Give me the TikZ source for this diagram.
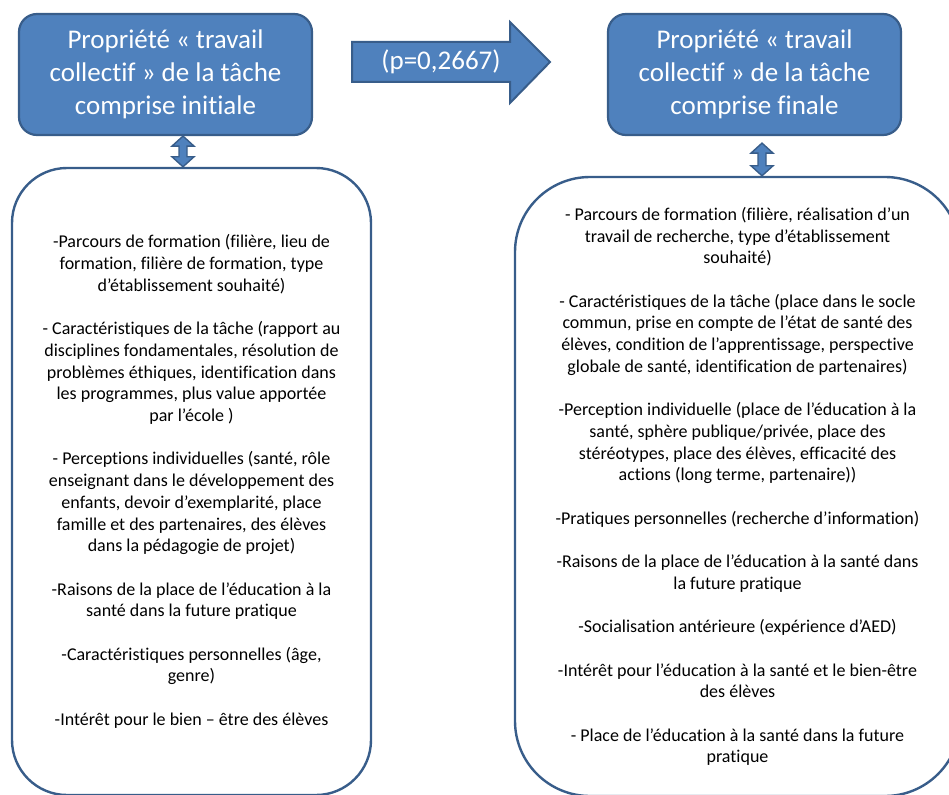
\documentclass[tikz,border=0pt]{standalone}
\usepackage{fontspec}
\setmainfont{Carlito}[Ligatures={NoCommon,NoContextual}]
\usetikzlibrary{calc}
\definecolor{boxblue}{HTML}{4F81BD}
\definecolor{edgeblue}{HTML}{385D8A}
\newcommand\udarr[2]{%
  \draw[dblsty] let \p1=(#1), \p2=(#2) in
   (\p1) -- (\x1+11pt,\y1-10pt) -- (\x1+4pt,\y1-10pt) -- (\x1+4pt,\y2+10pt)
   -- (\x1+11pt,\y2+10pt) -- (\p2) -- (\x1-11pt,\y2+10pt) -- (\x1-4pt,\y2+10pt)
   -- (\x1-4pt,\y1-10pt) -- (\x1-11pt,\y1-10pt) -- cycle;}
\begin{document}
\begin{tikzpicture}[x=1pt,y=-1pt,
  titlebox/.style={draw=edgeblue, line width=2.2pt, fill=boxblue, rounded corners=18pt,
    text=white, font=\fontsize{27}{33}\selectfont, align=center,
    minimum width=293pt, minimum height=121pt, inner sep=0pt},
  bodybox/.style={draw=edgeblue, line width=2.4pt, fill=white, align=center,
    font=\fontsize{18}{21.7}\selectfont, inner sep=0pt},
  dblsty/.style={draw=edgeblue, line width=1.4pt, fill=boxblue, line join=miter},
  bigarrow/.style={draw=edgeblue, line width=2pt, fill=boxblue, line join=miter}]
\useasboundingbox (0,0) rectangle (949,794);

\node[titlebox] (t1) at (165.5,74.5) {Propriété « travail\\collectif » de la tâche\\comprise initiale};
\node[titlebox] (t2) at (754.5,74.5) {Propriété « travail\\collectif » de la tâche\\comprise finale};

\node[bodybox, rounded corners=55pt, minimum width=359pt, minimum height=627pt] (b1) at (191.5,481.5)
{-Parcours de formation (filière, lieu de\\
formation, filière de formation, type\\
d’établissement souhaité)\\[21.7pt]
- Caractéristiques de la tâche (rapport au\\
disciplines fondamentales, résolution de\\
problèmes éthiques, identification dans\\
les programmes, plus value apportée\\
par l’école )\\[21.7pt]
- Perceptions individuelles (santé, rôle\\
enseignant dans le développement des\\
enfants, devoir d’exemplarité, place\\
famille et des partenaires, des élèves\\
dans la pédagogie de projet)\\[21.7pt]
-Raisons de la place de l’éducation à la\\
santé dans la future pratique\\[21.7pt]
-Caractéristiques personnelles (âge,\\
genre)\\[21.7pt]
-Intérêt pour le bien – être des élèves};

\node[bodybox, rounded corners=75pt, minimum width=445pt, minimum height=619pt] (b2) at (737.5,486.5)
{- Parcours de formation (filière, réalisation d’un\\
travail de recherche, type d’établissement\\
souhaité)\\[21.7pt]
- Caractéristiques de la tâche (place dans le socle\\
commun, prise en compte de l’état de santé des\\
élèves, condition de l’apprentissage, perspective\\
globale de santé, identification de partenaires)\\[21.7pt]
-Perception individuelle (place de l’éducation à la\\
santé, sphère publique/privée, place des\\
stéréotypes, place des élèves, efficacité des\\
actions (long terme, partenaire))\\[21.7pt]
-Pratiques personnelles (recherche d’information)\\[21.7pt]
-Raisons de la place de l’éducation à la santé dans\\
la future pratique\\[21.7pt]
-Socialisation antérieure (expérience d’AED)\\[21.7pt]
-Intérêt pour l’éducation à la santé et le bien-être\\
des élèves\\[21.7pt]
- Place de l’éducation à la santé dans la future\\
pratique};

% block arrow
\draw[bigarrow] (352,42) -- (510,42) -- (510,22) -- (550,62) -- (510,103) -- (510,82) -- (352,82) -- cycle;
\node[text=white, font=\fontsize{27}{33}\selectfont, inner sep=0pt] (p) at (441,62) {(p=0,2667)};

% double arrows
\coordinate (a1top) at (183,0 |- t1.south);
\coordinate (a1bot) at (183,0 |- b1.north);
\coordinate (a2top) at ([yshift=-7pt]762,0 |- t2.south);
\coordinate (a2bot) at (762,0 |- b2.north);
\udarr{a1top}{a1bot}
\udarr{a2top}{a2bot}
\end{tikzpicture}
\end{document}
